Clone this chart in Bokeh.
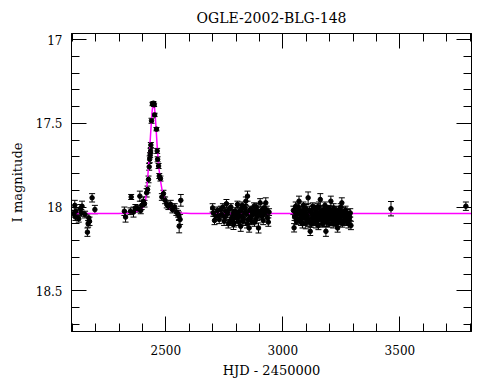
from bokeh.plotting import figure
from bokeh.models import (ColumnDataSource, Range1d, LinearAxis, SingleIntervalTicker,
                          CustomJSTickFormatter, Whisker, TeeHead)
from bokeh.embed import file_html
from bokeh.resources import INLINE

# ---------------- data ----------------
title_text = "OGLE-2002-BLG-148"

# baseline before the event
hjd_a = [2105, 2111, 2114, 2116, 2128, 2134, 2139, 2142, 2155, 2165, 2168, 2171, 2174, 2185, 2197]
mag_a = [18.04, 17.99, 18.06, 18.025, 18.07, 18.01, 18.035, 17.995, 18.045, 18.15, 18.10, 18.065, 18.085, 17.945, 18.015]
err_a = [0.02, 0.03, 0.02, 0.02, 0.02, 0.025, 0.02, 0.03, 0.02, 0.025, 0.02, 0.025, 0.025, 0.025, 0.025]

# the microlensing event
hjd_b = [2323, 2328, 2349, 2352, 2362, 2370, 2380, 2389, 2393, 2397, 2404, 2409, 2418, 2422,
         2426, 2429, 2431, 2433, 2435, 2436, 2439, 2443, 2447, 2450, 2452, 2460, 2463, 2465,
         2469, 2472, 2477, 2483, 2490, 2497, 2504, 2511, 2521, 2528, 2538, 2545, 2552, 2556,
         2557, 2561, 2564]
mag_b = [18.025, 18.06, 18.025, 17.94, 18.03, 18.005, 18.01, 17.935, 18.02, 17.99, 17.965, 17.98, 17.915, 17.895,
         17.835, 17.76, 17.715, 17.69, 17.665, 17.63, 17.485, 17.385, 17.38, 17.39, 17.45, 17.535, 17.665, 17.715,
         17.755, 17.815, 17.83, 17.94, 17.92, 17.96, 17.985, 17.995, 17.985, 18.015, 18.0, 18.03, 18.04, 18.055,
         18.114, 18.074, 17.96]
err_b = [0.025, 0.03, 0.02, 0.015, 0.03, 0.02, 0.02, 0.03, 0.02, 0.025, 0.025, 0.02, 0.025, 0.02,
         0.02, 0.02, 0.02, 0.015, 0.015, 0.015, 0.015, 0.01, 0.01, 0.01, 0.01, 0.01, 0.015, 0.015,
         0.015, 0.015, 0.015, 0.02, 0.02, 0.02, 0.02, 0.02, 0.025, 0.02, 0.02, 0.02, 0.02, 0.025,
         0.04, 0.03, 0.035]

# 2003 season
hjd_c = [2700, 2714, 2728, 2735, 2739, 2749, 2756, 2759, 2770, 2774, 2782, 2788, 2789, 2792, 2796,
         2802, 2806, 2813, 2817, 2820, 2828, 2830, 2835, 2839, 2842, 2849, 2853, 2856, 2863, 2867,
         2870, 2877, 2882, 2885, 2892, 2896, 2899, 2903, 2910, 2913, 2920, 2927, 2935, 2941,
         2703, 2708, 2720, 2725, 2744, 2752, 2764, 2767, 2778, 2785, 2798, 2809, 2811, 2823, 2826,
         2833, 2845, 2847, 2858, 2860, 2873, 2879, 2888, 2890, 2906, 2916, 2923, 2931, 2938]
mag_c = [18.005, 18.055, 18.074, 18.015, 18.045, 18.085, 18.025, 17.98, 18.015, 18.085, 18.065, 18.035, 18.104, 18.094, 18.025,
         18.065, 17.985, 18.055, 18.025, 18.115, 18.005, 18.085, 18.035, 18.005, 17.965, 17.935, 18.075, 18.125, 18.015, 18.085,
         18.045, 17.995, 18.035, 18.075, 18.025, 18.125, 18.045, 17.975, 18.055, 18.015, 18.005, 17.975, 18.065, 18.03,
         18.035, 18.08, 18.02, 18.05, 18.0, 18.06, 18.04, 18.1, 18.0, 18.075, 18.045, 18.03, 18.09, 18.055, 17.99,
         18.07, 18.04, 18.1, 18.02, 18.06, 18.03, 18.09, 18.0, 18.055, 18.035, 18.08, 18.04, 18.02, 18.09]
err_c = [0.025, 0.02, 0.025, 0.02, 0.02, 0.025, 0.02, 0.025, 0.02, 0.025, 0.02, 0.02, 0.03, 0.025, 0.02,
         0.025, 0.02, 0.02, 0.025, 0.03, 0.02, 0.025, 0.02, 0.02, 0.025, 0.03, 0.025, 0.025, 0.02, 0.02,
         0.025, 0.02, 0.02, 0.025, 0.02, 0.03, 0.025, 0.025, 0.02, 0.02, 0.025, 0.03, 0.025, 0.02,
         0.02, 0.025, 0.02, 0.025, 0.02, 0.02, 0.025, 0.025, 0.02, 0.025, 0.02, 0.025, 0.02, 0.025, 0.02,
         0.025, 0.02, 0.025, 0.02, 0.025, 0.02, 0.025, 0.02, 0.025, 0.02, 0.025, 0.02, 0.025, 0.025]

# 2004 season
hjd_d = [3045, 3048, 3050, 3055, 3058, 3062, 3066, 3069, 3072, 3076, 3080, 3084, 3088, 3092, 3096,
         3100, 3104, 3108, 3112, 3117, 3120, 3124, 3128, 3132, 3136, 3140, 3144, 3148, 3152, 3156,
         3160, 3164, 3168, 3172, 3176, 3180, 3184, 3188, 3192, 3196, 3200, 3205, 3209, 3213, 3217,
         3221, 3226, 3230, 3234, 3238, 3242, 3247, 3252, 3256, 3260, 3265, 3270, 3275, 3280, 3286, 3291,
         3052, 3064, 3074, 3078, 3086, 3090, 3098, 3102, 3106, 3114, 3122, 3126, 3130, 3138, 3142,
         3146, 3150, 3154, 3158, 3166, 3170, 3174, 3178, 3182, 3186, 3190, 3194, 3198, 3203, 3207,
         3211, 3215, 3219, 3224, 3228, 3232, 3236, 3240, 3245, 3250, 3254, 3258, 3263, 3268, 3273,
         3278, 3283, 3288]
mag_d = [18.02, 18.124, 18.06, 17.995, 18.085, 18.04, 18.0, 17.965, 18.075, 18.025, 18.05, 18.10, 17.99, 18.035, 18.07,
         18.01, 18.055, 17.945, 18.09, 18.145, 18.03, 18.065, 17.995, 18.045, 18.08, 18.015, 18.06, 18.0, 18.11, 18.035,
         17.955, 18.07, 18.02, 18.05, 18.09, 17.99, 18.145, 18.04, 18.075, 18.01, 18.055, 17.965, 18.03, 18.085, 18.005,
         18.06, 18.04, 18.095, 18.125, 18.02, 18.065, 18.0, 17.975, 18.05, 18.085, 18.03, 18.07, 18.04, 18.10, 18.06, 18.11,
         18.03, 18.07, 18.045, 18.09, 18.06, 18.02, 18.1, 18.04, 18.075, 18.02, 18.1, 18.04, 18.085, 18.05, 18.1,
         18.035, 18.075, 18.0, 18.065, 18.04, 18.1, 18.02, 18.06, 18.035, 18.09, 18.015, 18.05, 18.1, 18.025, 18.07,
         18.045, 18.1, 18.035, 18.08, 18.02, 18.06, 18.09, 18.045, 18.08, 18.03, 18.1, 18.04, 18.06, 18.02, 18.09,
         18.05, 18.075, 18.035]
err_d = [0.025, 0.025, 0.02, 0.025, 0.02, 0.025, 0.02, 0.03, 0.025, 0.02, 0.025, 0.025, 0.02, 0.03, 0.02,
         0.025, 0.02, 0.035, 0.025, 0.025, 0.02, 0.025, 0.02, 0.025, 0.02, 0.025, 0.03, 0.02, 0.025, 0.02,
         0.035, 0.025, 0.02, 0.025, 0.025, 0.02, 0.03, 0.02, 0.025, 0.02, 0.025, 0.03, 0.02, 0.025, 0.025,
         0.02, 0.025, 0.02, 0.025, 0.02, 0.025, 0.02, 0.03, 0.025, 0.02, 0.025, 0.02, 0.025, 0.025, 0.02, 0.025,
         0.02, 0.025, 0.03, 0.02, 0.025, 0.02, 0.03, 0.025, 0.02, 0.025, 0.02, 0.03, 0.025, 0.02, 0.025,
         0.02, 0.025, 0.03, 0.02, 0.025, 0.02, 0.025, 0.03, 0.02, 0.025, 0.02, 0.025, 0.02, 0.03, 0.025,
         0.02, 0.025, 0.02, 0.03, 0.025, 0.02, 0.025, 0.02, 0.025, 0.03, 0.02, 0.025, 0.02, 0.025, 0.02,
         0.025, 0.02, 0.025]

# late isolated points
hjd_e = [3462, 3782]
mag_e = [18.01, 17.995]
err_e = [0.043, 0.025]

# model light curve
model_hjd = [2090, 2299, 2350, 2379, 2400, 2414, 2422, 2429, 2436, 2442, 2448, 2452, 2457, 2464,
             2471, 2479, 2486, 2500, 2521, 2564, 2607, 3810]
model_mag = [18.039, 18.039, 18.035, 18.025, 18.005, 17.956, 17.837, 17.699, 17.540, 17.421, 17.368, 17.41, 17.50, 17.659,
             17.777, 17.857, 17.916, 17.975, 18.015, 18.035, 18.039, 18.039]

x_ticks_interval = 500
y_ticks_interval = 0.5

# ---------------- figure ----------------
FONT = "DejaVu Serif"

hjd = hjd_a + hjd_b + hjd_c + hjd_d + hjd_e
mag = mag_a + mag_b + mag_c + mag_d + mag_e
err = err_a + err_b + err_c + err_d + err_e
src = ColumnDataSource(dict(x=hjd, y=mag,
                            lo=[m - e for m, e in zip(mag, err)],
                            hi=[m + e for m, e in zip(mag, err)]))

p = figure(width=482, height=380,
           x_range=Range1d(2097, 3806), y_range=Range1d(18.743, 16.964),
           output_backend="svg", toolbar_location=None,
           min_border_left=71, min_border_right=11, min_border_top=33, min_border_bottom=48,
           background_fill_color="white", border_fill_color="white")

p.title.text = title_text
p.title.text_font = FONT
p.title.text_font_size = "14px"
p.title.text_font_style = "normal"
p.title.text_color = "black"
p.title.align = "center"
p.title.offset = 0
p.title.standoff = 15

p.grid.visible = False
p.outline_line_color = "black"
p.outline_line_width = 1

xt = SingleIntervalTicker(interval=x_ticks_interval, num_minor_ticks=5)
yt = SingleIntervalTicker(interval=y_ticks_interval, num_minor_ticks=5)
yfmt = CustomJSTickFormatter(code="return String(Math.round(tick*10)/10)")

def style(ax, labels=True):
    ax.axis_line_color = "black"
    ax.major_tick_line_color = "black"
    ax.minor_tick_line_color = "black"
    ax.major_tick_in = 15
    ax.major_tick_out = 0
    ax.minor_tick_in = 8
    ax.minor_tick_out = 0
    ax.major_label_text_font = FONT
    ax.axis_label_text_font = FONT
    ax.axis_label_text_font_size = "13px"
    ax.axis_label_text_font_style = "normal"
    ax.axis_label_text_color = "black"
    if labels:
        ax.major_label_text_font_size = "12px"
        ax.major_label_text_color = "black"
    else:
        ax.major_label_text_font_size = "0px"
        ax.major_label_text_color = None
        ax.major_label_standoff = 0

p.xaxis.ticker = xt
p.yaxis.ticker = yt
p.yaxis.formatter = yfmt
p.xaxis.axis_label = "HJD - 2450000"
p.yaxis.axis_label = "I magnitude"
style(p.xaxis[0])
style(p.yaxis[0])
p.xaxis.major_label_standoff = 13
p.xaxis.axis_label_standoff = 5
p.yaxis.major_label_standoff = 9
p.yaxis.axis_label_standoff = 8

top = LinearAxis(ticker=xt)
right = LinearAxis(ticker=yt)
style(top, False)
style(right, False)
p.add_layout(top, "above")
p.add_layout(right, "right")

# model line
p.line(model_hjd, model_mag, line_color="#ff00ff", line_width=1.5)

# error bars
wh = Whisker(base="x", lower="lo", upper="hi", source=src, dimension="height",
             line_color="black", line_width=1,
             lower_head=TeeHead(size=6, line_color="black", line_width=1),
             upper_head=TeeHead(size=6, line_color="black", line_width=1))
p.add_layout(wh)

# data points
p.scatter("x", "y", source=src, marker="circle", size=4.5, fill_color="black", line_color="black")

open("out.html", "w").write(file_html(p, INLINE))
